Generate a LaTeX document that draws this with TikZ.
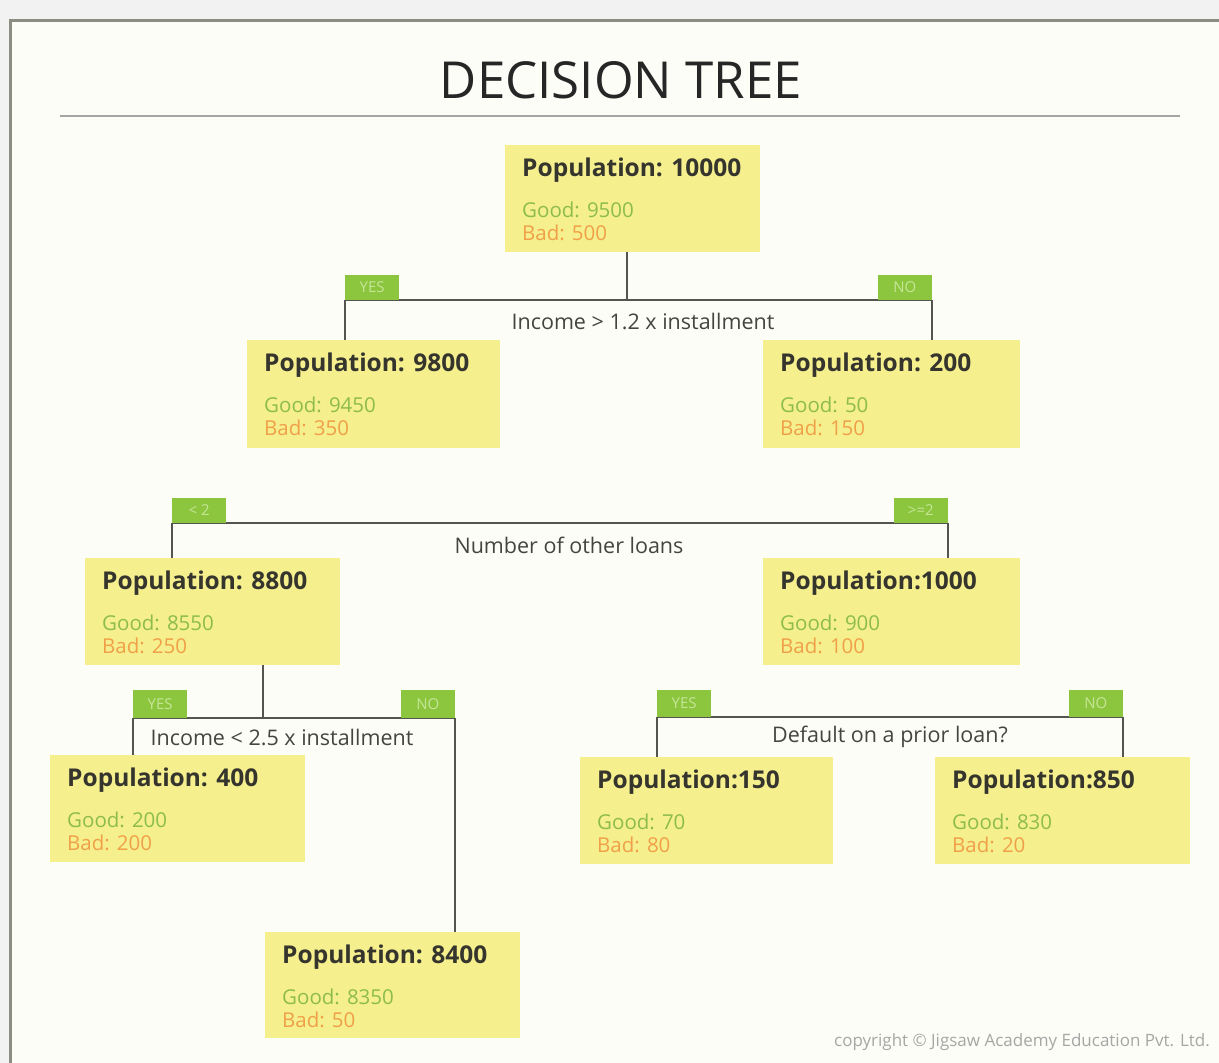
\documentclass[tikz,border=0pt]{standalone}
\usepackage{fontspec}
\setmainfont{Open Sans}
\definecolor{outerbg}{HTML}{F2F2F2}
\definecolor{innerbg}{HTML}{FDFDF7}
\definecolor{framecol}{HTML}{8B8C82}
\definecolor{boxyellow}{HTML}{F5EF8E}
\definecolor{popdark}{HTML}{35352E}
\definecolor{goodgreen}{HTML}{8DBC4C}
\definecolor{badorange}{HTML}{F0A048}
\definecolor{tagfill}{HTML}{8CC63F}
\definecolor{tagtext}{HTML}{C6E696}
\definecolor{linecol}{HTML}{55554F}
\definecolor{edgetextcol}{HTML}{45453F}
\newcommand\DTbox[8]{%
  \node[dtbox, minimum width={#4-#2}, minimum height={#5-#3}] (#1) at (#2,#3) {};
  \node[poptext] (#1-pop) at (#2+17,#3+31) {#6};
  \node[goodtext] (#1-good) at (#2+17,#3+72) {#7};
  \node[badtext] (#1-bad) at (#2+17,#3+95) {#8};
}
\begin{document}
\begin{tikzpicture}[x=1pt,y=-1pt,
  dtbox/.style={fill=boxyellow, draw=none, anchor=north west, inner sep=0, outer sep=0},
  poptext/.style={anchor=base west, inner sep=0, text=popdark, font=\bfseries\fontsize{24.5}{24.5}\selectfont},
  goodtext/.style={anchor=base west, inner sep=0, text=goodgreen, font=\fontsize{20.5}{20.5}\selectfont},
  badtext/.style={anchor=base west, inner sep=0, text=badorange, font=\fontsize{20.5}{20.5}\selectfont},
  conn/.style={draw=linecol, line width=2.2pt},
  tag/.style={fill=tagfill, inner sep=0, minimum width=54, minimum height=25, text=tagtext, font=\fontsize{15}{15}\selectfont},
  edgetext/.style={inner sep=0, text=edgetextcol, font=\fontsize{21.5}{21.5}\selectfont}
]
\useasboundingbox (0,0) rectangle (1219,1063);
% background and frame
\fill[outerbg] (0,0) rectangle (1219,1063);
\fill[innerbg] (10,20) rectangle (1219,1063);
\draw[framecol, line width=3pt] (10,1063) -- (10,20) -- (1219,20);
% title
\node[inner sep=0, text=black!85, font=\fontsize{51}{51}\selectfont] (title) at (621,80) {DECISION TREE};
\draw[black!35, line width=1.5pt] (60,116) -- (1180,116);

% boxes
\DTbox{B0}{505}{145}{760}{252}{Population: 10000}{Good: 9500}{Bad: 500}
\DTbox{B1}{247}{340}{500}{448}{Population: 9800}{Good: 9450}{Bad: 350}
\DTbox{B2}{763}{340}{1020}{448}{Population: 200}{Good: 50}{Bad: 150}
\DTbox{B3}{85}{558}{340}{665}{Population: 8800}{Good: 8550}{Bad: 250}
\DTbox{B4}{763}{558}{1020}{665}{Population:1000}{Good: 900}{Bad: 100}
\DTbox{B5}{50}{755}{305}{862}{Population: 400}{Good: 200}{Bad: 200}
\DTbox{B6}{580}{757}{833}{864}{Population:150}{Good: 70}{Bad: 80}
\DTbox{B7}{935}{757}{1190}{864}{Population:850}{Good: 830}{Bad: 20}
\DTbox{B8}{265}{932}{520}{1038}{Population: 8400}{Good: 8350}{Bad: 50}

% split 1: income > 1.2 x installment
\coordinate (c1S) at (627,300);
\coordinate (c1L) at (345,300);
\coordinate (c1R) at (932,300);
\draw[conn] (c1S |- B0.south) -- (c1S);
\draw[conn] (c1L) -- (c1R);
\draw[conn] (c1L) -- (c1L |- B1.north);
\draw[conn] (c1R) -- (c1R |- B2.north);
\node[tag, anchor=south west] (t1y) at (c1L) {YES};
\node[tag, anchor=south east] (t1n) at (c1R) {NO};
\node[edgetext] (e1) at (643,321) {Income > 1.2 x installment};

% split 2: number of other loans
\coordinate (c2L) at (172,523);
\coordinate (c2R) at (948,523);
\draw[conn] (c2L) -- (c2R);
\draw[conn] (c2L) -- (c2L |- B3.north);
\draw[conn] (c2R) -- (c2R |- B4.north);
\node[tag, anchor=south west] (t2y) at (c2L) {< 2};
\node[tag, anchor=south east] (t2n) at (c2R) {>=2};
\node[edgetext] (e2) at (569,545) {Number of other loans};

% split 3: income < 2.5 x installment
\coordinate (c3S) at (263,718);
\coordinate (c3L) at (133,718);
\coordinate (c3R) at (455,718);
\draw[conn] (c3S |- B3.south) -- (c3S);
\draw[conn] (c3L) -- (c3R);
\draw[conn] (c3L) -- (c3L |- B5.north);
\draw[conn] (c3R) -- (c3R |- B8.north);
\node[tag, anchor=south west, minimum height=28] (t3y) at (c3L) {YES};
\node[tag, anchor=south east, minimum height=28] (t3n) at (c3R) {NO};
\node[edgetext] (e3) at (282,737) {Income < 2.5 x installment};

% split 4: default on a prior loan
\coordinate (c4L) at (657,717);
\coordinate (c4R) at (1123,717);
\draw[conn] (c4L) -- (c4R);
\draw[conn] (c4L) -- (c4L |- B6.north);
\draw[conn] (c4R) -- (c4R |- B7.north);
\node[tag, anchor=south west, minimum height=27] (t4y) at (c4L) {YES};
\node[tag, anchor=south east, minimum height=27] (t4n) at (c4R) {NO};
\node[edgetext] (e4) at (890,737) {Default on a prior loan?};

% copyright
\node[inner sep=0, anchor=east, text=black!35, font=\fontsize{17}{17}\selectfont] (copy) at (1210,1042) {copyright © Jigsaw Academy Education Pvt. Ltd.};
\end{tikzpicture}
\end{document}
